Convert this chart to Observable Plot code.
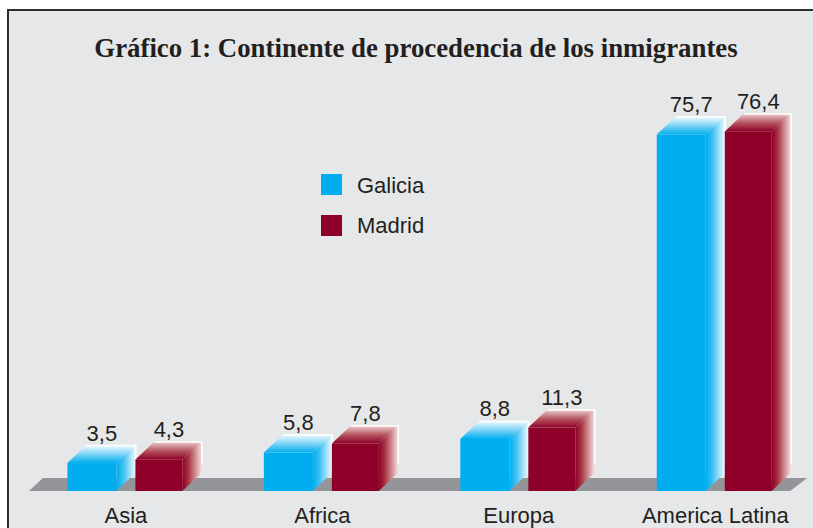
<!DOCTYPE html>
<html>
<head>
<meta charset="utf-8">
<script src="https://cdn.jsdelivr.net/npm/d3@7"></script>
<script src="https://cdn.jsdelivr.net/npm/@observablehq/plot@0.6"></script>
<style>
  html, body { margin: 0; padding: 0; background: #ffffff; width: 813px; height: 528px; overflow: hidden; }
  #frame { position: absolute; left: 7px; top: 9px; width: 830px; height: 540px; background: #e6e7e8;
           border-left: 2px solid #2e2e2e; border-top: 2px solid #2e2e2e; }
  #chart { position: absolute; left: 0; top: 0; }
  #title { position: absolute; left: 0; top: 35px; width: 832px; text-align: center;
           font-family: "Liberation Serif", "Times New Roman", serif; font-weight: bold; font-size: 26.8px;
           line-height: 27px; color: #231f20; white-space: nowrap; }
  .sw { position: absolute; left: 321px; width: 21px; height: 21px; }
  .lg { position: absolute; left: 357px; font-family: "Liberation Sans", Arial, sans-serif; font-size: 22px;
        line-height: 22px; color: #231f20; }
</style>
</head>
<body>
<div id="frame"></div>
<div id="chart"></div>
<div id="title">Gráfico 1: Continente de procedencia de los inmigrantes</div>
<div class="sw" id="sw0" style="top:174px"></div>
<div class="lg" id="lg0" style="top:175px"></div>
<div class="sw" id="sw1" style="top:215px"></div>
<div class="lg" id="lg1" style="top:215px"></div>
<script>
// ---- data ----
const categories = ["Asia", "Africa", "Europa", "America Latina"];
const seriesNames = ["Galicia", "Madrid"];
const galicia = [3.5, 5.8, 8.8, 75.7];
const madrid = [4.3, 7.8, 11.3, 76.4];
const colors = ["#00aeef", "#8e0029"];

// ---- geometry (layout) ----
const PX = 196.4;           // px per category step
const K = 4.55;             // px per value unit
const yMin = -2.64;         // front floor edge in value units
const yMax = 100;
const barOff = [[-58, -9], [10, 57]];  // front face left/right px relative to category centre
const dxU = 19 / PX, dyU = 18 / K;     // 3D depth offset
const floorDepth = 13 / K;

const values = [galicia, madrid];
const bars = [];
seriesNames.forEach((s, si) => {
  categories.forEach((c, i) => {
    bars.push({series: s, si, cat: i, v: values[si][i],
      xl: i + barOff[si][0] / PX, xr: i + barOff[si][1] / PX,
      label: String(values[si][i]).replace(".", ",")});
  });
});

const sidePts = [], topPts = [], linePts = [];
bars.forEach((b, k) => {
  sidePts.push({k, si: b.si, x: b.xr, y1: yMin, y2: b.v},
               {k, si: b.si, x: b.xr + dxU, y1: yMin + dyU, y2: b.v + dyU});
  topPts.push({k, si: b.si, y: b.v, x1: b.xl, x2: b.xr},
              {k, si: b.si, y: b.v + dyU, x1: b.xl + dxU, x2: b.xr + dxU});
  linePts.push({k, x: b.xl + dxU, y: b.v + dyU},
               {k, x: b.xr + dxU, y: b.v + dyU},
               {k, x: b.xr + dxU, y: yMin + dyU + 2.2});
});

const floorPts = [
  {y: yMin, x1: -0.491, x2: 3.384},
  {y: yMin + floorDepth, x1: -0.42, x2: 3.47}
];

const defs = () => {
  const d = d3.create("svg:defs");
  const mk = (id, x2, y2, stops) => {
    const g = d.append("linearGradient").attr("id", id)
      .attr("x1", 0).attr("y1", 0).attr("x2", x2).attr("y2", y2);
    stops.forEach(([o, c]) => g.append("stop").attr("offset", o).attr("stop-color", c));
  };
  mk("sideG", 1, 0, [[0, "#00aeef"], [0.35, "#3cc0f2"], [1, "#eef9fe"]]);
  mk("sideM", 1, 0, [[0, "#8e0029"], [0.3, "#a5303f"], [1, "#f5dcdc"]]);
  mk("topG", 0, 1, [[0, "#f2fbff"], [0.45, "#8ad8f7"], [1, "#00aeef"]]);
  mk("topM", 0, 1, [[0, "#efd2d2"], [0.5, "#b75a63"], [1, "#8e0029"]]);
  return d.node();
};

const marks = [defs,
  Plot.areaX(floorPts, {y: "y", x1: "x1", x2: "x2", fill: "#939598"})];
[0, 1].forEach(si => {
  const bs = bars.filter(b => b.si === si);
  marks.push(
    Plot.rect(bs, {x1: "xl", x2: "xr", y1: () => yMin, y2: "v", fill: colors[si]}),
    Plot.areaY(sidePts.filter(p => p.si === si), {x: "x", y1: "y1", y2: "y2", z: "k",
      fill: si === 0 ? "url(#sideG)" : "url(#sideM)"}),
    Plot.areaX(topPts.filter(p => p.si === si), {y: "y", x1: "x1", x2: "x2", z: "k",
      fill: si === 0 ? "url(#topG)" : "url(#topM)"}),
    Plot.line(linePts.filter(p => bars[p.k].si === si), {x: "x", y: "y", z: "k",
      stroke: "#ffffff", strokeWidth: 1.5})
  );
});
marks.push(
  Plot.text(bars, {x: b => (b.xl + b.xr) / 2 + dxU / 2, y: b => b.v + dyU, text: "label",
    lineAnchor: "bottom", dy: -5, fontSize: 22, fill: "#231f20"})
);

const chart = Plot.plot({
  width: 813, height: 528,
  marginLeft: 27.2, marginRight: 0, marginTop: 24, marginBottom: 37,
  style: {fontFamily: "'Liberation Sans', Arial, sans-serif", fontSize: "22px", color: "#231f20", background: "transparent"},
  x: {domain: [-0.5, 3.5], ticks: [0, 1, 2, 3], tickFormat: i => categories[i], tickSize: 0, tickPadding: 16, label: null},
  y: {domain: [yMin, yMax], axis: null},
  marks
});
document.getElementById("chart").appendChild(chart);

seriesNames.forEach((s, i) => {
  document.getElementById("sw" + i).style.background = colors[i];
  document.getElementById("lg" + i).textContent = s;
});
</script>
</body>
</html>
